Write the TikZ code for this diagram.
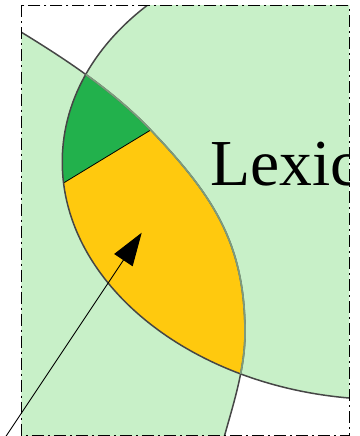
\documentclass[tikz,border=0pt]{standalone}
\usepackage{fontspec}
\setmainfont{Liberation Serif}
\usetikzlibrary{arrows.meta}
\definecolor{lightgreen}{RGB}{200,240,200}
\definecolor{gold}{RGB}{255,201,14}
\definecolor{darkgreen}{RGB}{34,177,76}
\definecolor{rim}{RGB}{70,70,70}
\definecolor{innerrim}{RGB}{125,155,125}
\tikzset{
  rimline/.style={draw=rim,line width=1.5pt},
  innerline/.style={draw=innerrim,line width=1.7pt},
  frameline/.style={line width=0.8pt,dash pattern=on 12pt off 4pt on 2pt off 4pt},
}
\def\shapeA{(377.2,168.1) ellipse [x radius=315.1,y radius=231.3,rotate=-2.5]}
\def\curveB{(2,20.5) .. controls (54.3,51.9) and (108.6,85.8) .. (150.7,130)
  .. controls (212.8,195.2) and (245,243) .. (245,333)
  .. controls (245,371) and (231.8,408.3) .. (222,445)}
\def\regionB{\curveB -- (-20,450) -- (-20,20.5) -- cycle}
\begin{document}
\begin{tikzpicture}[x=1pt,y=-1pt]
  \useasboundingbox (0,0) rectangle (359,436);
  \coordinate (splitL) at (64,182.7);
  \coordinate (splitR) at (150.7,130);
  \coordinate (tail) at (5.5,437);
  \coordinate (tip) at (141.7,232.7);
  \begin{scope}
    \clip (21.3,5.5) rectangle (349.3,435);
    \fill[lightgreen] \shapeA;
    \fill[lightgreen] \regionB;
    \begin{scope}
      \clip \shapeA;
      \fill[gold] \regionB;
      \clip \regionB;
      \fill[darkgreen] (40,197.3) -- (180,112.2) -- (180,-20) -- (40,-20) -- cycle;
    \end{scope}
    \draw[line width=0.8pt] (splitL) -- (splitR);
    \draw[rimline] \shapeA;
    \draw[rimline] \curveB;
    \begin{scope}
      \clip \shapeA;
      \draw[innerline] \curveB;
    \end{scope}
    \node[anchor=base west,inner sep=0pt,font=\fontsize{65.6pt}{70pt}\selectfont]
      (lexic) at (210,185) {Lexic};
  \end{scope}
  \draw[frameline] (21.3,5.5) rectangle (349.3,435);
  \draw[line width=0.9pt,-{Triangle[length=33pt,width=22pt]}] (tail) -- (tip);
\end{tikzpicture}
\end{document}
